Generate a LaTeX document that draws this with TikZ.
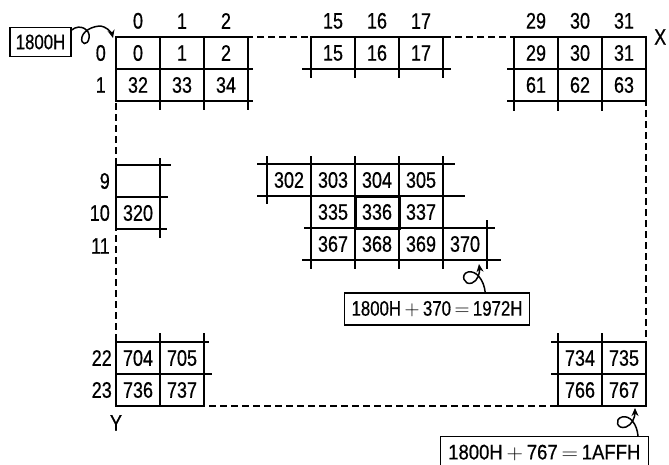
\documentclass[tikz,border=0pt]{standalone}
\usepackage{fontspec}
\setmainfont{Liberation Sans}[FakeStretch=0.8, FakeBold=0.6]
\usepackage{tikz}
\usetikzlibrary{arrows.meta, positioning}

\tikzset{
  cell/.style={draw, line width=1.4pt, minimum width=44pt, minimum height=32pt, inner sep=0pt, outer sep=0pt},
  lbl/.style={inner sep=0pt},
  addr/.style={draw, line width=1.4pt, inner sep=4pt, minimum height=32pt, font=\fontsize{21}{24}\selectfont},
  stub/.style={line width=1.4pt},
  frame/.style={line width=1.3pt, dash pattern=on 7pt off 4pt},
  curl/.style={line width=1.5pt, -{Stealth[length=8pt, width=7pt]}}
}

\begin{document}
\begin{tikzpicture}[x=1pt, y=-1pt, font=\fontsize{22.5}{26}\selectfont]
\useasboundingbox (0,0) rectangle (669,464);
\fill[white] (0,0) rectangle (669,464);
\draw[frame] (116,37) rectangle (646,406);

% top left corner
\node[cell, anchor=north west] (c0) at (116,37) {0};
\foreach \a/\b in {0/1, 1/2}
  \node[cell, right=0pt of c\a] (c\b) {\b};
\node[cell, below=0pt of c0] (c32) {32};
\foreach \a/\b in {32/33, 33/34}
  \node[cell, right=0pt of c\a] (c\b) {\b};
\foreach \n in {0,1,2}
  \node[lbl, above=8pt of c\n] (h\n) {\n};
\node[lbl, left=10pt of c0] (r0) {0};
\node[lbl, left=10pt of c32] (r1) {1};
\draw[stub] (c2.south east) -- ++(5,0) (c34.south east) -- ++(5,0);
\draw[stub] (c32.south east) -- ++(0,9) (c33.south east) -- ++(0,9) (c34.south east) -- ++(0,9);

% top middle
\node[cell, anchor=north west] (c15) at (311,37) {15};
\foreach \a/\b in {15/16, 16/17}
  \node[cell, right=0pt of c\a] (c\b) {\b};
\foreach \n in {15,16,17}
  \node[lbl, above=8pt of c\n] (h\n) {\n};
\draw[stub] (c15.south west) -- ++(-9,0) (c17.south east) -- ++(8,0);
\draw[stub] (c15.south west) -- ++(0,9) (c16.south west) -- ++(0,9) (c17.south west) -- ++(0,9) (c17.south east) -- ++(0,9);

% top right corner
\node[cell, anchor=north west] (c29) at (514,37) {29};
\foreach \a/\b in {29/30, 30/31}
  \node[cell, right=0pt of c\a] (c\b) {\b};
\node[cell, below=0pt of c29] (c61) {61};
\foreach \a/\b in {61/62, 62/63}
  \node[cell, right=0pt of c\a] (c\b) {\b};
\foreach \n in {29,30,31}
  \node[lbl, above=8pt of c\n] (h\n) {\n};
\node[lbl, right=8pt of c31.north east] (xa) {X};
\draw[stub] (c29.south west) -- ++(-7,0) (c61.south west) -- ++(-7,0);
\draw[stub] (c61.south west) -- ++(0,10) (c62.south west) -- ++(0,10) (c63.south west) -- ++(0,10);

% left side, rows 9 and 10
\node[cell, anchor=north west] (c288) at (116,165) {};
\node[cell, below=0pt of c288] (c320) {320};
\node[lbl, left=6pt of c288] (r9) {9};
\node[lbl, left=6pt of c320] (r10) {10};
\node[lbl, anchor=east] (r11) at ([yshift=-33pt]r10.east) {11};
\draw[stub] (c288.north east) -- ++(11,0) (c288.south east) -- ++(8,0) (c320.south east) -- ++(7,0);
\draw[stub] (c288.north east) -- ++(0,-7) (c320.south east) -- ++(0,9);

% middle block
\node[cell, anchor=north west] (c302) at (267,164) {302};
\foreach \a/\b in {302/303, 303/304, 304/305}
  \node[cell, right=0pt of c\a] (c\b) {\b};
\node[cell, below=0pt of c303] (c335) {335};
\node[cell, right=0pt of c335] (c336) {336};
\node[cell, right=0pt of c336] (c337) {337};
\node[cell, below=0pt of c335] (c367) {367};
\foreach \a/\b in {367/368, 368/369, 369/370}
  \node[cell, right=0pt of c\a] (c\b) {\b};
\draw[line width=3pt] (c336.north west) rectangle (c336.south east);
\draw[stub] (c302.north west) -- ++(-10,0) (c305.north east) -- ++(12,0);
\draw[stub] (c302.south west) -- ++(-10,0) (c305.south east) -- ++(22,0);
\draw[stub] (c367.north west) -- ++(-7,0) (c370.north east) -- ++(8,0);
\draw[stub] (c367.south west) -- ++(-9,0) (c370.south east) -- ++(14,0);
\foreach \n in {302,303,304,305}
  \draw[stub] (c\n.north west) -- ++(0,-8);
\draw[stub] (c305.north east) -- ++(0,-8) (c370.north east) -- ++(0,-8) (c302.south west) -- ++(0,8);
\foreach \n in {367,368,369,370}
  \draw[stub] (c\n.south west) -- ++(0,9);
\draw[stub] (c370.south east) -- ++(0,9);

% bottom left corner
\node[cell, anchor=north west] (c704) at (116,342) {704};
\node[cell, right=0pt of c704] (c705) {705};
\node[cell, below=0pt of c704] (c736) {736};
\node[cell, right=0pt of c736] (c737) {737};
\node[lbl, left=4pt of c704] (r22) {22};
\node[lbl, left=4pt of c736] (r23) {23};
\node[lbl, below=9pt of c736.south west] (ya) {Y};
\draw[stub] (c704.north east) -- ++(0,-9) (c705.north east) -- ++(0,-9);
\draw[stub] (c705.north east) -- ++(5,0) (c705.south east) -- ++(8,0);

% bottom right corner
\node[cell, anchor=north east] (c735) at (646,342) {735};
\node[cell, left=0pt of c735] (c734) {734};
\node[cell, below=0pt of c734] (c766) {766};
\node[cell, below=0pt of c735] (c767) {767};
\draw[stub] (c734.north west) -- ++(0,-9) (c735.north west) -- ++(0,-9);
\draw[stub] (c734.north west) -- ++(-7,0) (c734.south west) -- ++(-7,0);

% address boxes
\node[addr, minimum height=29pt, minimum width=61pt] (b0) at (40.5,42) {1800H};
\node[addr, minimum width=185pt] (b1) at (437,309) {1800H\,$+$\,370\,$=$\,1972H};
\node[addr, anchor=north east, minimum width=208pt] (b2) at (649,436) {\scalebox{1.1}[1]{1800H\,$+$\,767\,$=$\,1AFFH}};

\draw[curl] ([yshift=12pt]b0.east) .. controls (80,23) and (91,30) .. (89,38)
  .. controls (88,46) and (80,45) .. (82,37)
  .. controls (84,29) and (98,24) .. (104,27)
  .. controls (109,29) and (112,34) .. ([xshift=-3pt,yshift=-1pt]c0.north west);
\draw[curl] ([xshift=-45pt]b1.north east) .. controls (484,280) and (476,270) .. (468,272)
  .. controls (460,274) and (464,286) .. (472,283)
  .. controls (478,281) and (480,272) .. ([xshift=-8pt,yshift=-4pt]c370.south east);
\draw[curl] ([xshift=-11pt]b2.north east) .. controls (637,424) and (630,415) .. (622,417)
  .. controls (614,419) and (617,430) .. (626,427)
  .. controls (632,425) and (635,417) .. ([xshift=-11pt,yshift=-2pt]c767.south east);
\end{tikzpicture}
\end{document}
